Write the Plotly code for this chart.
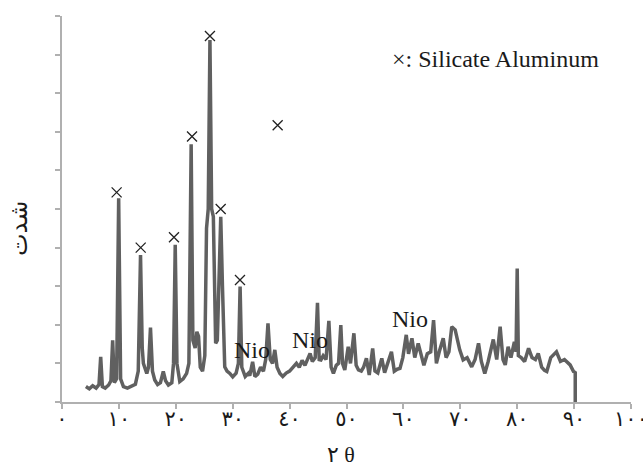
import plotly.graph_objects as go

# XRD pattern (2theta, intensity)
two_theta = [4.2, 4.8, 5.4, 6.0, 6.5, 6.8, 7.1, 7.6, 8.2, 8.6, 8.9, 9.2, 9.6, 9.96, 10.3, 10.8, 11.5, 12.2, 12.9,
             13.4, 13.8, 14.1, 14.3, 14.9, 15.2, 15.55, 15.9, 16.3, 16.8, 17.3, 17.8, 18.2, 18.7, 19.3, 19.6, 19.9,
             20.2, 20.7, 21.3, 21.9, 22.3, 22.7, 23.0, 23.4, 23.7, 24.0, 24.3, 24.7, 25.1, 25.4, 25.7, 26.0, 26.3,
             26.6, 26.85, 27.0, 27.3, 27.6, 27.9, 28.2, 28.6, 29.0, 29.5, 30.0, 30.6, 31.0, 31.3, 31.6, 32.2, 32.8,
             33.0, 33.5, 33.9, 34.4, 34.9, 35.4, 35.8, 36.2, 36.6, 37.0, 37.4, 37.8, 38.3, 38.8, 39.4, 40.0, 40.6,
             41.2, 41.7, 42.2, 42.7, 43.2, 43.6, 44.0, 44.5, 44.9, 45.2, 45.5, 45.9, 46.4, 46.9, 47.3, 47.7, 48.2,
             48.6, 49.0, 49.3, 49.7, 50.3, 50.7, 51.3, 51.7, 52.1, 52.6, 53.0, 53.5, 54.0, 54.6, 55.0, 55.5, 56.2,
             56.7, 57.4, 57.9, 58.4, 58.9, 59.4, 59.9, 60.5, 60.9, 61.5, 62.0, 62.6, 63.1, 63.6, 64.2, 64.8, 65.3,
             65.8, 66.3, 67.0, 67.5, 68.0, 68.5, 69.1, 69.9, 70.5, 71.2, 72.0, 72.6, 73.2, 73.7, 74.3, 74.9, 75.8,
             76.4, 77.0, 77.5, 77.9, 78.4, 78.9, 79.5, 79.8, 80.0, 80.2, 80.7, 81.3, 82.0, 82.6, 83.2, 83.7, 84.3,
             84.8, 85.2, 85.9, 86.9, 87.6, 88.3, 88.9, 89.3, 89.9, 90.2, 90.2]
intensity = [4.0, 3.4, 4.2, 3.6, 4.5, 11.7, 4.0, 3.6, 4.4, 5.5, 16.0, 5.0, 6.0, 52.8, 6.0, 4.0, 3.6, 4.2, 4.6,
             8.0, 38.1, 14.0, 10.0, 7.4, 9.0, 19.3, 8.0, 5.7, 4.5, 5.0, 7.9, 5.5, 4.4, 5.0, 10.0, 40.7,
             10.0, 5.3, 6.0, 7.4, 10.0, 66.8, 16.0, 14.0, 18.2, 17.0, 9.0, 8.0, 12.0, 45.0, 50.0, 93.8, 50.0,
             48.0, 28.0, 15.2, 16.0, 30.0, 48.0, 30.0, 9.1, 8.0, 7.4, 6.5, 7.5, 10.0, 29.9, 9.0, 6.6, 7.5,
             6.8, 10.4, 6.6, 7.2, 9.0, 8.0, 11.0, 20.4, 11.0, 10.0, 13.5, 9.0, 7.4, 6.6, 7.5, 8.0, 9.0,
             10.0, 9.0, 10.8, 9.5, 11.0, 12.6, 10.5, 11.5, 25.7, 11.0, 10.9, 12.0, 11.0, 21.0, 9.0, 7.4, 9.5,
             10.0, 19.9, 10.0, 8.3, 14.3, 10.0, 17.8, 9.5, 8.3, 8.0, 9.0, 11.3, 7.0, 13.9, 8.0, 7.5, 11.3,
             7.6, 10.9, 13.0, 8.0, 8.5, 8.7, 11.5, 17.4, 12.5, 16.5, 11.5, 15.2, 12.0, 9.5, 12.5, 13.0, 21.2,
             10.0, 13.0, 16.5, 11.5, 13.0, 19.5, 18.7, 13.5, 10.9, 11.5, 9.1, 11.0, 15.2, 10.5, 7.4, 10.5, 16.2,
             11.0, 19.5, 11.0, 9.6, 14.3, 11.5, 15.6, 13.0, 34.6, 12.0, 11.5, 10.5, 13.9, 11.5, 11.0, 12.6, 9.0,
             8.2, 7.9, 11.5, 13.0, 10.5, 11.0, 10.0, 9.6, 7.9, 7.6, 0.0]

# Silicate Aluminum markers
marker_x = [9.6, 13.83, 19.68, 22.85, 26.0, 27.89, 31.28, 37.9]
marker_y = [54.3, 40.0, 42.7, 68.8, 94.8, 50.0, 31.6, 71.7]

# NiO labels
nio_x = [33.4, 43.6, 61.2]
nio_y = [13.5, 16.1, 21.4]
nio_text = ["Nio", "Nio", "Nio"]

tick_vals = [0, 10, 20, 30, 40, 50, 60, 70, 80, 90, 100]
tick_text = ["٠", "١٠", "٢٠", "٣٠", "٤٠", "٥٠", "٦٠", "٧٠", "٨٠", "٩٠", "١٠٠"]

fig = go.Figure()
fig.add_trace(go.Scatter(x=two_theta, y=intensity, mode="lines",
                         line=dict(color="#606060", width=3.5), showlegend=False,
                         hoverinfo="skip"))
fig.add_trace(go.Scatter(x=marker_x, y=marker_y, mode="markers",
                         marker=dict(symbol="x-thin", size=10, line=dict(width=1.3, color="#222222"),
                                     color="#222222"),
                         showlegend=False, hoverinfo="skip"))

for xx, yy, tt in zip(nio_x, nio_y, nio_text):
    fig.add_annotation(x=xx, y=yy, text=tt, showarrow=False, xanchor="center", yanchor="middle",
                       font=dict(family="Liberation Serif", size=24, color="#1a1a1a"))

fig.add_annotation(x=76.1, y=88.9, text="×: Silicate Aluminum", showarrow=False,
                   xanchor="center", yanchor="middle",
                   font=dict(family="Liberation Serif", size=24, color="#1a1a1a"))

# axis titles
fig.add_annotation(xref="paper", yref="paper", x=(19 - 62) / 569, y=(402 - 229) / 386, text="شدت",
                   textangle=-90, showarrow=False, xanchor="center", yanchor="middle",
                   font=dict(family="DejaVu Sans", size=24, color="#1a1a1a"))
fig.add_annotation(xref="paper", yref="paper", x=(341 - 62) / 569, y=(402 - 454) / 386, text="٢ θ",
                   showarrow=False, xanchor="center", yanchor="middle",
                   font=dict(family="Liberation Serif, DejaVu Sans", size=22, color="#1a1a1a"))

fig.update_layout(
    width=643, height=466,
    margin=dict(l=62, r=12, t=16, b=64, autoexpand=False),
    paper_bgcolor="white", plot_bgcolor="white",
    xaxis=dict(range=[0, 100], tickvals=tick_vals, ticktext=tick_text, showgrid=False, zeroline=False,
               showline=True, linecolor="#b0b0b0", linewidth=2, ticks="outside", ticklen=5,
               tickcolor="#b0b0b0", tickwidth=1.5, ticklabeloverflow="allow", automargin=False,
               ticklabelstandoff=-8,
               tickfont=dict(family="DejaVu Sans", size=21, color="#1a1a1a")),
    yaxis=dict(range=[0, 100], dtick=10, showticklabels=False, showgrid=False, zeroline=False,
               showline=True, linecolor="#b0b0b0", linewidth=2, ticks="outside", ticklen=5,
               tickcolor="#b0b0b0", tickwidth=1.5, automargin=False),
)

fig.write_html("out.html")
